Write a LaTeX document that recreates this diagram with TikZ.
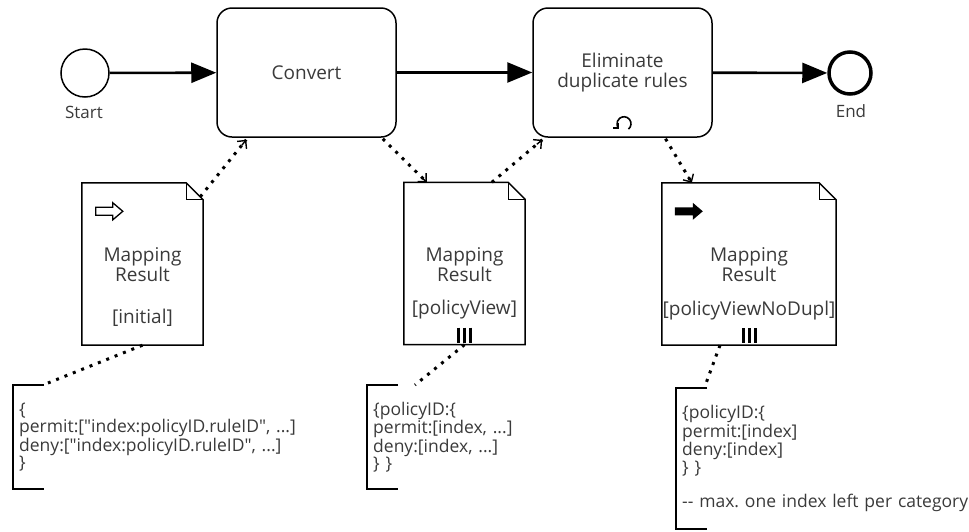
\documentclass[tikz,border=0pt]{standalone}
\usepackage{fontspec}
\setmainfont{Open Sans}
\usetikzlibrary{arrows.meta,calc}
\definecolor{ink}{HTML}{3A3A3A}
\frenchspacing

\begin{document}
\begin{tikzpicture}[x=1pt,y=-1pt,
  lbl/.style={text=ink, font=\fontsize{19}{20}\selectfont, align=center, inner sep=0pt},
  small/.style={text=ink, font=\fontsize{17}{18}\selectfont, inner sep=0pt},
  event/.style={circle, draw, inner sep=0pt},
  task/.style={draw, rounded corners=15pt, line width=1.5pt, minimum width=179pt, minimum height=129pt, lbl},
  docbox/.style={minimum width=121pt, minimum height=162pt, inner sep=0pt},
  note/.style={anchor=north west, align=left, text=ink, font=\fontsize{17.5}{17.3}\selectfont, inner xsep=6pt, inner ysep=0pt, text width=290pt},
  flow/.style={line width=2.6pt, -{Triangle[length=25pt,width=20pt]}},
  assoc/.style={line width=3pt, dash pattern=on 3pt off 6pt},
  opentip/.style={line width=1.4pt, -{Straight Barb[length=6pt,width=12pt]}},
  bracket/.style={line width=2pt},
  docline/.style={line width=1.5pt},
]
\useasboundingbox (0,0) rectangle (969,531);

% events
\node[event, line width=1.5pt, minimum size=48pt] (start) at (85,73) {};
\node[small] (startlbl) at (84,112.5) {Start};
\node[event, line width=3.5pt, minimum size=42pt] (end) at (850,73) {};
\node[small] (endlbl) at (851,111) {End};

% tasks
\node[task] (convert) at (306.5,72.5) {Convert};
\node[task] (elim) at (622.5,72.5) {Eliminate\\duplicate rules};

% loop marker
\draw[line width=1.6pt, -{Straight Barb[length=3.5pt,width=7pt,line width=1.4pt]}]
  ($(elim.south)+(1.5,-14)$) ++(-50:7pt) arc[start angle=-50, end angle=225, radius=7pt];

% sequence flows
\draw[flow] (start) -- (convert);
\draw[flow] (convert) -- (elim);
\draw[flow] (elim) -- (end);

% data objects
\node[docbox] (doc1) at (142.5,264) {};
\node[docbox] (doc2) at (464.5,263.5) {};
\node[docbox, minimum width=174pt] (doc3) at (749,264) {};
\foreach \d in {doc1,doc2,doc3}{
  \draw[docline] (\d.north west) -- ($(\d.north east)+(-17,0)$) -- ($(\d.north east)+(0,17)$)
     -- (\d.south east) -- (\d.south west) -- cycle;
  \draw[line width=1.2pt] ($(\d.north east)+(-17,0)$) |- ($(\d.north east)+(0,17)$);
}

% input / output markers
\draw[line width=1.3pt] ($(doc1.north west)+(14,24.5)$) -- ++(17,0) -- ++(0,-4.5) -- ++(10,8.5)
   -- ++(-10,8.5) -- ++(0,-4.5) -- ++(-17,0) -- cycle;
\fill ($(doc3.north west)+(13,24.5)$) -- ++(18,0) -- ++(0,-4.5) -- ++(10,8.5)
   -- ++(-10,8.5) -- ++(0,-4.5) -- ++(-18,0) -- cycle;

% collection markers
\foreach \d in {doc2,doc3}{
  \foreach \dx in {-6,0,6}{
    \draw[line width=3pt] ($(\d.south)+(\dx,-17)$) -- ($(\d.south)+(\dx,-2)$);
  }
}

% data object labels
\node[lbl] (doc1name) at (142.5,265) {Mapping\\Result};
\node[lbl] (doc1state) at (142.5,318) {[initial]};
\node[lbl] (doc2name) at (464.5,265) {Mapping\\Result};
\node[lbl] (doc2state) at (464.5,310) {[policyView]};
\node[lbl] (doc3name) at (749,265) {Mapping\\Result};
\node[lbl] (doc3state) at (749,311) {[policyViewNoDupl]};

% data associations: dotted line plus a solid open tip
\coordinate (a1s) at ($(doc1.north east)+(-3,14)$);
\coordinate (a1e) at ($(convert.south west)+(30,2)$);
\coordinate (a2s) at ($(convert.south east)+(-14,1)$);
\coordinate (a2e) at ($(doc2.north west)+(23,0)$);
\coordinate (a3s) at ($(doc2.north west)+(88,0)$);
\coordinate (a3e) at ($(elim.south west)+(10,2)$);
\coordinate (a4s) at ($(elim.south)+(43,1)$);
\coordinate (a4e) at ($(doc3.north west)+(30,0)$);
\foreach \k in {1,2,3,4}{
  \draw[assoc] (a\k s) -- (a\k e);
  \draw[opentip] ($(a\k e)!7pt!(a\k s)$) -- (a\k e);
}

% text annotations
\node[note, minimum height=104pt] (ann1) at (13,385)
  {\{\\permit:[\textquotedbl index:policyID.ruleID\textquotedbl, ...]\\deny:[\textquotedbl index:policyID.ruleID\textquotedbl, ...]\\\}};
\node[note, minimum height=104pt] (ann2) at (367,385)
  {\{policyID:\{\\permit:[index, ...]\\deny:[index, ...]\\\} \}};
\node[note, minimum height=141pt] (ann3) at (676,388)
  {\{policyID:\{\\permit:[index]\\deny:[index]\\\} \}\\[17.3pt]-{}- max. one index left per category};
\foreach \a in {ann1,ann2,ann3}{
  \draw[bracket] ([xshift=31pt]\a.north west) -- (\a.north west) -- (\a.south west) -- ([xshift=31pt]\a.south west);
}

% annotation associations
\draw[assoc] (doc1.south) -- ($(ann1.north west)+(35,-2)$);
\draw[assoc] (doc2.south) -- ($(ann2.north west)+(48,0)$);
\draw[assoc] ($(doc3.south)+(-29,0)$) -- ($(ann3.north west)+(29,-2)$);
\end{tikzpicture}
\end{document}
